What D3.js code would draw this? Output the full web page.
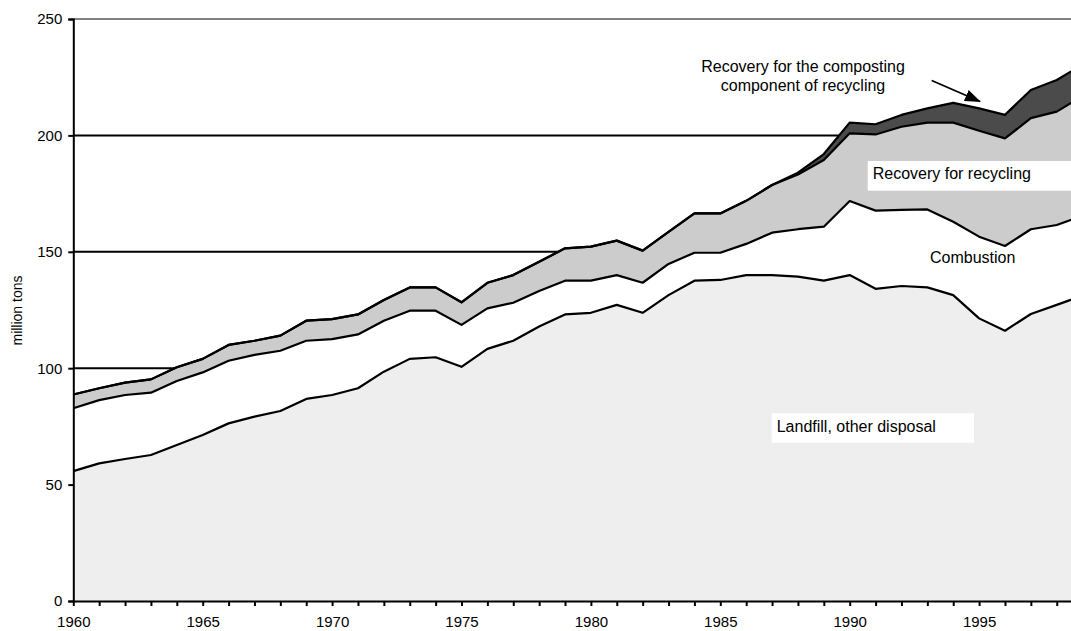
<!DOCTYPE html>
<html>
<head>
<meta charset="utf-8">
<script src="https://cdn.jsdelivr.net/npm/d3@7"></script>
<style>
  html, body { margin: 0; padding: 0; background: #fff; }
  svg { display: block; font-family: "Liberation Sans", Arial, sans-serif; }
</style>
</head>
<body>
<svg id="chart" width="1071" height="631"></svg>
<script>
const years = d3.range(1960, 2000);
const landfill   = [55.8,59.1,61.0,62.7,67.0,71.3,76.3,79.2,81.6,86.8,88.5,91.4,98.5,104.0,104.7,100.6,108.3,111.8,117.9,123.1,123.8,127.2,123.8,131.4,137.6,137.9,140.0,140.0,139.3,137.6,140.0,134.1,135.3,134.7,131.4,121.4,116.1,123.3,127.2,131.2];
const combustion = [27.0,27.2,27.5,26.8,27.5,26.9,26.9,26.5,25.9,25.0,24.0,23.1,21.9,20.7,20.0,18.0,17.4,16.3,15.3,14.5,13.8,12.8,12.9,13.4,12.0,11.7,13.4,18.2,20.4,23.2,31.8,33.6,32.7,33.5,31.5,35.1,36.4,36.4,34.3,34.3];
const recycling  = [5.9,5.1,5.3,5.7,5.9,5.8,6.8,6.1,6.5,8.6,8.6,8.6,8.9,10.0,10.0,9.7,11.0,11.9,12.5,13.9,14.6,14.8,13.8,13.8,16.9,16.9,18.5,20.5,23.5,28.6,29.1,32.7,35.7,37.3,42.6,45.5,46.2,47.7,48.7,51.4];
const composting = [0,0,0,0,0,0,0,0,0,0,0,0,0,0,0,0,0,0,0,0,0,0,0,0,0,0,0,0,0.8,2.6,4.6,4.4,5.1,6.1,8.5,9.6,10.1,12.1,13.6,13.5];
const seriesKeys = ["landfill","combustion","recycling","composting"];
const yTicks = [0,50,100,150,200,250];
const xTickLabels = [1960,1965,1970,1975,1980,1985,1990,1995];
const yTitle = "million tons";

const rows = years.map((y,i)=>({year:y, landfill:landfill[i], combustion:combustion[i], recycling:recycling[i], composting:composting[i]}));
const fills = {landfill:"#eeeeee", combustion:"#ffffff", recycling:"#cccccc", composting:"#4b4b4b"};

const svg = d3.select("#chart");
const x = d3.scaleLinear().domain([1960,1999]).range([73.3, 73.3 + 39*25.88]);
const y = d3.scaleLinear().domain([0,250]).range([601,19]);

// gridlines
svg.append("g").selectAll("line").data(yTicks.filter(t=>t>0)).join("line")
  .attr("x1", x(1960)).attr("x2", 1071)
  .attr("y1", d=>y(d)).attr("y2", d=>y(d))
  .attr("stroke", d=> d===250 ? "#808080" : "#000")
  .attr("stroke-width", 2);

const stack = d3.stack().keys(seriesKeys);
const layers = stack(rows);
const area = d3.area().x(d=>x(d.data.year)).y0(d=>y(d[0])).y1(d=>y(d[1]));
const line = d3.line().x(d=>x(d.data.year)).y(d=>y(d[1]));

svg.append("g").selectAll("path").data(layers).join("path")
  .attr("d", area).attr("fill", d=>fills[d.key]);
svg.append("g").selectAll("path").data(layers).join("path")
  .attr("d", line).attr("fill","none").attr("stroke","#000")
  .attr("stroke-width",2.2).attr("stroke-linejoin","round");

// axes
const yAxis = d3.axisLeft(y).tickValues(yTicks).tickSize(5).tickPadding(6);
const gy = svg.append("g").attr("transform",`translate(${x(1960)},0)`).call(yAxis);
gy.select(".domain").attr("stroke","#000").attr("stroke-width",2);
gy.selectAll(".tick line").attr("stroke","#000").attr("stroke-width",2);
gy.selectAll("text").attr("font-size",15).attr("fill","#000").attr("font-family","Liberation Sans, Arial, sans-serif");

const xAxis = d3.axisBottom(x).tickValues(d3.range(1960,1999)).tickSize(5).tickSizeOuter(0)
  .tickFormat(d=> xTickLabels.includes(d) ? String(d) : "").tickPadding(10);
const gx = svg.append("g").attr("transform",`translate(0,${y(0)})`).call(xAxis);
gx.select(".domain").attr("stroke","#000").attr("stroke-width",2);
gx.selectAll(".tick line").attr("stroke","#000").attr("stroke-width",2);
gx.selectAll("text").attr("font-size",15).attr("fill","#000").attr("font-family","Liberation Sans, Arial, sans-serif");

svg.append("text").attr("transform","translate(22,310.5) rotate(-90)")
  .attr("text-anchor","middle").attr("font-size",14).attr("fill","#000").text(yTitle);

// labels
const lab = svg.append("g").attr("font-size",16).attr("fill","#000");
lab.append("rect").attr("x",771.7).attr("y",413.3).attr("width",202.3).attr("height",29.4).attr("fill","#fff");
lab.append("text").attr("x",776.7).attr("y",431.7).text("Landfill, other disposal");
lab.append("rect").attr("x",867.7).attr("y",161).attr("width",210).attr("height",29.7).attr("fill","#fff");
lab.append("text").attr("x",872.7).attr("y",179.3).text("Recovery for recycling");
lab.append("text").attr("x",930).attr("y",263.3).text("Combustion");
lab.append("text").attr("x",803).attr("y",71.7).attr("text-anchor","middle").text("Recovery for the composting");
lab.append("text").attr("x",803).attr("y",90.7).attr("text-anchor","middle").text("component of recycling");

// arrow
svg.append("defs").append("marker").attr("id","ah")
  .attr("viewBox","0 0 16 12").attr("refX",15).attr("refY",6)
  .attr("markerWidth",16).attr("markerHeight",12).attr("markerUnits","userSpaceOnUse")
  .attr("orient","auto").append("path").attr("d","M0,0L16,6L0,12z").attr("fill","#000");
svg.append("line").attr("x1",931.7).attr("y1",80.5).attr("x2",980).attr("y2",101.5)
  .attr("stroke","#000").attr("stroke-width",1.8).attr("marker-end","url(#ah)");
</script>
</body>
</html>
